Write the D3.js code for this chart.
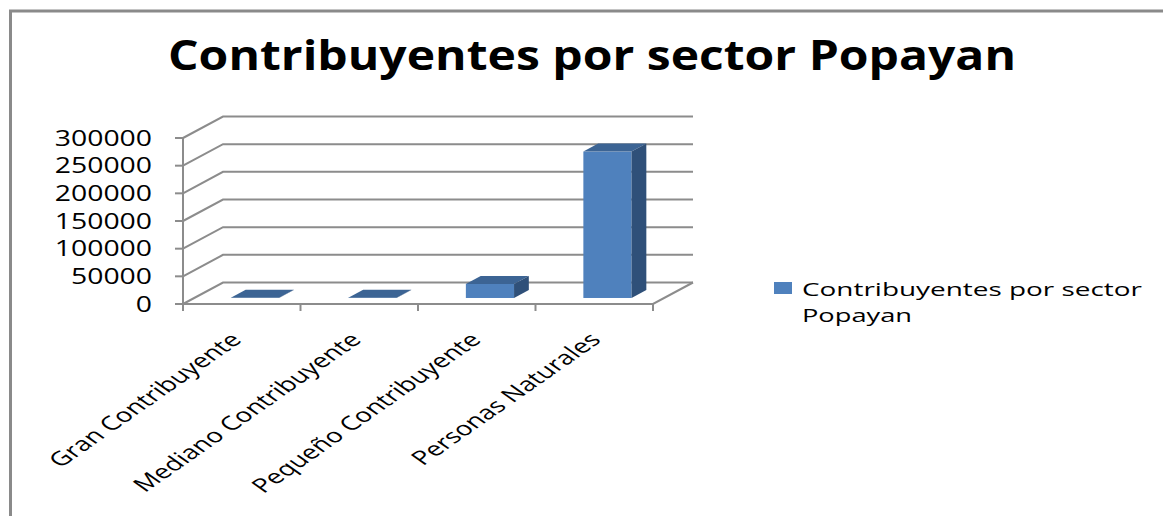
<!DOCTYPE html>
<html>
<head>
<meta charset="utf-8">
<script src="https://cdn.jsdelivr.net/npm/d3@7"></script>
<style>
  body { margin: 0; background: #fff; }
  text { font-family: "Open Sans", sans-serif; fill: #000; }
</style>
</head>
<body>
<script>
var categories = ["Gran Contribuyente", "Mediano Contribuyente", "Pequeño Contribuyente", "Personas Naturales"];
var values = [300, 600, 25400, 264600];
var yTicks = [0, 50000, 100000, 150000, 200000, 250000, 300000];
var seriesName = "Contribuyentes por sector Popayan";

var width = 1163,
    height = 516;

// 3d box: front floor edge and how far the back wall is pushed
var depthX = 40,
    depthY = -21.5;
var barD0 = 0.28, barD1 = 0.65;   // bar depth, as fraction of box depth

var svg = d3.select("body")
    .append("svg")
    .attr("width", width)
    .attr("height", height);

// frame
svg.append("path")
    .attr("d", "M10.5,516V11H1163")
    .attr("fill", "none")
    .attr("stroke", "#8a8a8a")
    .attr("stroke-width", 3);

// title
svg.append("text")
    .attr("x", 168)
    .attr("y", 70)
    .attr("font-size", 41)
    .attr("font-weight", "bold")
    .attr("textLength", 848)
    .attr("lengthAdjust", "spacingAndGlyphs")
    .text(seriesName);

var x = d3.scaleBand()
    .domain(categories)
    .range([183, 653]);

var y = d3.scaleLinear()
    .domain([0, 300000])
    .range([304, 138]);

var grid = "#8c8c8c";
var x0 = x.range()[0], x1 = x.range()[1];

// gridlines: side diagonal + back wall horizontal
var g = svg.append("g")
    .attr("fill", "none")
    .attr("stroke", grid)
    .attr("stroke-width", 2);

yTicks.forEach(function(t) {
    g.append("path")
        .attr("d", "M" + x0 + "," + y(t) + "L" + (x0 + depthX) + "," + (y(t) + depthY) +
            "H" + (x1 + depthX));
});

// floor front + right edge
g.append("path")
    .attr("d", "M" + x0 + "," + y(0) + "H" + x1 + "L" + (x1 + depthX) + "," + (y(0) + depthY));

// y axis line and ticks
g.append("path")
    .attr("d", "M" + x0 + "," + y(300000) + "V" + (y(0) + 6));
yTicks.forEach(function(t) {
    g.append("path").attr("d", "M" + (x0 - 8) + "," + y(t) + "H" + x0);
});

// category ticks
categories.concat([null]).forEach(function(c, i) {
    var px = x0 + i * x.step();
    g.append("path").attr("d", "M" + px + "," + y(0) + "V" + (y(0) + 7));
});

// y labels
svg.append("g")
    .selectAll("text")
    .data(yTicks)
    .enter().append("text")
    .attr("x", 152)
    .attr("y", function(d) { return y(d) + 7.5; })
    .attr("text-anchor", "end")
    .attr("font-size", 21)
    .attr("textLength", function(d) { return String(d).length * 16.2; })
    .attr("lengthAdjust", "spacingAndGlyphs")
    .text(function(d) { return d; });

// bars
var barW = x.step() * 0.41;
var bdx = (barD1 - barD0) * depthX,
    bdy = (barD1 - barD0) * depthY;

var bar = svg.selectAll(".bar")
    .data(categories.map(function(c, i) { return {name: c, value: values[i]}; }))
    .enter().append("g")
    .attr("class", "bar");

function fx(d) { return x(d.name) + (x.step() - barW) / 2 + 2 + barD0 * depthX; }
function fTop(d) { return y(d.value) + barD0 * depthY; }
function fBot() { return y(0) + barD0 * depthY; }

bar.append("rect")
    .attr("x", fx)
    .attr("y", fTop)
    .attr("width", barW)
    .attr("height", function(d) { return fBot() - fTop(d); })
    .attr("fill", "#4f81bd");

bar.append("path")
    .attr("d", function(d) {
        var a = fx(d), t = fTop(d);
        return "M" + a + "," + t + "l" + bdx + "," + bdy + "h" + barW + "l" + (-bdx) + "," + (-bdy) + "Z";
    })
    .attr("fill", "#3c6494");

bar.append("path")
    .attr("d", function(d) {
        var a = fx(d) + barW, t = fTop(d), b = fBot();
        return "M" + a + "," + t + "l" + bdx + "," + bdy + "V" + (b + bdy) + "l" + (-bdx) + "," + (-bdy) + "Z";
    })
    .attr("fill", "#2f5079");

// category labels, rotated
svg.append("g")
    .selectAll("text")
    .data(categories)
    .enter().append("text")
    .attr("transform", function(d, i) {
        var px = x(d) + x.step() / 2 + 1 + i * 2.3;
        return "translate(" + px + ",341) scale(1.43,1) rotate(-45)";
    })
    .attr("text-anchor", "end")
    .attr("font-size", 19.5)
    .text(function(d) { return d; });

// legend
svg.append("rect")
    .attr("x", 774)
    .attr("y", 282)
    .attr("width", 18)
    .attr("height", 12)
    .attr("fill", "#4f81bd");

var leg = svg.append("text")
    .attr("font-size", 19);
leg.append("tspan")
    .attr("x", 802)
    .attr("y", 296)
    .attr("textLength", 340)
    .attr("lengthAdjust", "spacingAndGlyphs")
    .text("Contribuyentes por sector");
leg.append("tspan")
    .attr("x", 802)
    .attr("y", 322)
    .attr("textLength", 110)
    .attr("lengthAdjust", "spacingAndGlyphs")
    .text("Popayan");
</script>
</body>
</html>
